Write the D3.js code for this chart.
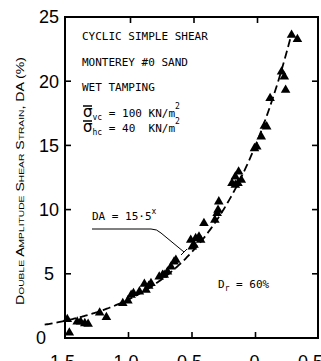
<!DOCTYPE html>
<html>
<head>
<meta charset="utf-8">
<script src="https://cdn.jsdelivr.net/npm/d3@7"></script>
<style>
  body { margin: 0; background: #fff; }
  svg { display: block; }
</style>
</head>
<body>
<div id="viz"></div>
<script>
// axis ticks
var xTicks = [-1.5, -1.0, -0.5, 0, 0.5];
var xTickLabels = ['-1.5', '-1.0', '-0.5', '0', '0.5'];
var yTicks = [0, 5, 10, 15, 20, 25];
var innerXTicks = [-1.0, -0.5, 0];
var innerYTicks = [5, 10, 15, 20];

// test points (x, double amplitude strain %)
var pointX = [-1.482, -1.466, -1.404, -1.377, -1.344, -1.318, -1.227, -1.174,
  -1.045, -1.005, -0.979, -0.961, -0.914, -0.875, -0.841, -0.823, -0.862,
  -0.758, -0.732, -0.719, -0.693, -0.666, -0.641, -0.627,
  -0.498, -0.510, -0.471, -0.445, -0.432, -0.484, -0.406,
  -0.320, -0.302, -0.295, -0.289,
  -0.185, -0.159, -0.138, -0.159, -0.133, -0.112,
  -0.008, 0.010, 0.045, 0.070, 0.088, 0.115, 0.205, 0.227, 0.237, 0.284, 0.330];
var pointDA = [1.46, 0.41, 1.27, 1.27, 1.14, 1.09, 1.97, 1.61,
  2.70, 2.91, 3.35, 3.48, 3.61, 4.21, 4.05, 4.26, 3.74,
  4.77, 4.91, 4.91, 5.16, 5.55, 5.94, 6.07,
  7.11, 7.63, 7.76, 7.89, 7.63, 7.24, 8.93,
  9.19, 9.71, 9.97, 10.62,
  12.05, 11.92, 12.05, 12.56, 12.95, 12.31,
  14.77, 14.90, 15.68, 16.51, 16.46, 18.67, 20.74, 20.35, 19.31, 23.60, 23.26];

// fitted line printed on the chart: DA = 15 * 5^x
var fitA = 15, fitB = 5;
var fitFrom = -1.66, fitTo = 0.285;

var width = 321, height = 361;

var x = d3.scaleLinear().domain([-1.5, 0.5]).range([65, 319]);
var y = d3.scaleLinear().domain([0, 25]).range([338, 17]);

var svg = d3.select('#viz').append('svg')
  .attr('width', width)
  .attr('height', height)
  .style('font-family', 'Liberation Sans, Arial, sans-serif');

// frame
svg.append('rect')
  .attr('x', x(-1.5))
  .attr('y', y(25))
  .attr('width', x(0.5) - x(-1.5) - 1)
  .attr('height', y(0) - y(25))
  .attr('fill', 'none')
  .attr('stroke', '#000')
  .attr('stroke-width', 2);

// inward ticks on all four sides
var tickLen = 6;
var g = svg.append('g').attr('stroke', '#000').attr('stroke-width', 1.6);
g.selectAll('.tb').data(innerXTicks).enter().append('line')
  .attr('x1', function(d) { return x(d); }).attr('x2', function(d) { return x(d); })
  .attr('y1', y(0)).attr('y2', y(0) - tickLen);
g.selectAll('.tt').data(innerXTicks).enter().append('line')
  .attr('x1', function(d) { return x(d) + 2; }).attr('x2', function(d) { return x(d) + 2; })
  .attr('y1', y(25)).attr('y2', y(25) + tickLen);
g.selectAll('.tl').data(innerYTicks).enter().append('line')
  .attr('x1', x(-1.5)).attr('x2', x(-1.5) + tickLen)
  .attr('y1', function(d) { return y(d); }).attr('y2', function(d) { return y(d); });
g.selectAll('.tr').data(innerYTicks).enter().append('line')
  .attr('x1', x(0.5) - 1).attr('x2', x(0.5) - 1 - tickLen)
  .attr('y1', function(d) { return y(d); }).attr('y2', function(d) { return y(d); });

// y tick labels
svg.selectAll('.ylab').data(yTicks).enter().append('text')
  .attr('x', function(d) { return d === 0 ? 41 : 49; })
  .attr('y', function(d) { return y(d); })
  .attr('dy', '0.36em')
  .attr('text-anchor', 'middle')
  .attr('font-size', 18)
  .text(function(d) { return d; });

// x tick labels (mostly cut off at the bottom edge)
svg.selectAll('.xlab').data(xTicks).enter().append('text')
  .attr('x', function(d) { return x(d) + (d < 0 ? 10 : 4); })
  .attr('y', 368)
  .attr('text-anchor', 'end')
  .attr('font-size', 18)
  .text(function(d, i) { return xTickLabels[i]; });

// y axis title
svg.append('text')
  .attr('transform', 'translate(24,181) rotate(-90)')
  .attr('text-anchor', 'middle')
  .attr('font-size', 11)
  .attr('textLength', 248)
  .attr('lengthAdjust', 'spacingAndGlyphs')
  .style('font-variant', 'small-caps')
  .text('Double Amplitude Shear Strain, DA (%)');

// fitted dashed curve
var fitData = d3.range(fitFrom, fitTo + 0.001, 0.01);
var line = d3.line()
  .x(function(d) { return x(d); })
  .y(function(d) { return y(fitA * Math.pow(fitB, d)); })
  .curve(d3.curveLinear);
svg.append('path')
  .datum(fitData)
  .attr('d', line)
  .attr('fill', 'none')
  .attr('stroke', '#000')
  .attr('stroke-width', 1.8)
  .attr('stroke-dasharray', '8,4');

// triangles
svg.selectAll('.pt').data(pointX).enter().append('path')
  .attr('d', d3.symbol().type(d3.symbolTriangle).size(40))
  .attr('transform', function(d, i) {
    return 'translate(' + x(d) + ',' + y(pointDA[i]) + ')';
  })
  .attr('fill', '#000');

// annotations
var mono = 'DejaVu Sans Mono, monospace';
var notes = svg.append('g').style('font-family', mono).attr('font-size', 11);
notes.append('text').attr('x', 82).attr('y', 40).text('CYCLIC SIMPLE SHEAR');
notes.append('text').attr('x', 82).attr('y', 66).text('MONTEREY #0 SAND');
notes.append('text').attr('x', 82).attr('y', 91).text('WET TAMPING');

function sigmaLine(yy, sub, rest) {
  var t = notes.append('text').attr('x', 83).attr('y', yy);
  t.append('tspan').attr('font-size', 15).attr('font-family', 'DejaVu Sans, sans-serif').text('\u03c3');
  t.append('tspan').attr('font-size', 8).attr('dy', 3).text(sub);
  t.append('tspan').attr('dy', -3).attr('xml:space', 'preserve').text(rest);
  t.append('tspan').attr('font-size', 8).attr('dy', -8).text('2');
  notes.append('line').attr('x1', 83).attr('x2', 92)
    .attr('y1', yy - 11).attr('y2', yy - 11)
    .attr('stroke', '#000').attr('stroke-width', 1.5);
}
sigmaLine(117, 'vc', ' = 100 KN/m');
sigmaLine(132, 'hc', ' = 40  KN/m');

var da = notes.append('text').attr('x', 92).attr('y', 220);
da.append('tspan').text('DA = 15\u00b75');
da.append('tspan').attr('font-size', 8).attr('dy', -6).text('x');

svg.append('path')
  .attr('d', 'M92,229 L151,229 Q157,229 161,233 L184,252 M181,255 L187,249')
  .attr('fill', 'none')
  .attr('stroke', '#000')
  .attr('stroke-width', 1);

var dr = notes.append('text').attr('x', 218).attr('y', 288);
dr.append('tspan').text('D');
dr.append('tspan').attr('font-size', 8).attr('dy', 3).text('r');
dr.append('tspan').attr('dy', -3).attr('xml:space', 'preserve').text(' = 60%');
</script>
</body>
</html>
